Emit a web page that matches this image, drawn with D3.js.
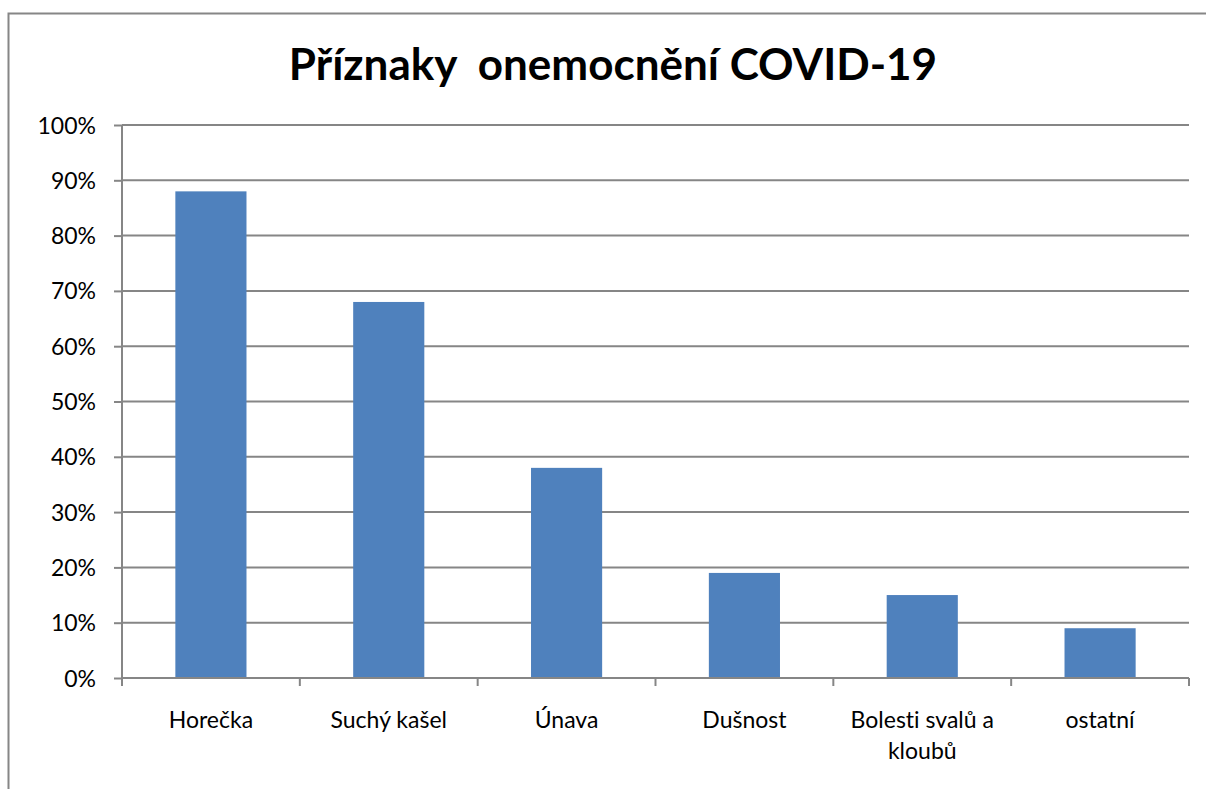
<!DOCTYPE html>
<html><head><meta charset="utf-8">
<script src="https://cdn.jsdelivr.net/npm/d3@7"></script>
<style>html,body{margin:0;padding:0;background:#fff;}svg{display:block;}text{font-variant-ligatures:none;font-feature-settings:"liga" 0;}</style>
</head><body>
<svg id="c" width="1206" height="789"></svg>
<script>
const categories = [["Horečka"], ["Suchý kašel"], ["Únava"], ["Dušnost"], ["Bolesti svalů a", "kloubů"], ["ostatní"]];
const values = [0.88, 0.68, 0.38, 0.19, 0.15, 0.09];
const yTicks = [0, 0.1, 0.2, 0.3, 0.4, 0.5, 0.6, 0.7, 0.8, 0.9, 1.0];
const titleText = "Příznaky  onemocnění COVID-19";

const svg = d3.select("#c");
const font = "Lato, 'Open Sans', sans-serif";
const grey = "#868686";

// outer chart border
svg.append("rect").attr("x", 8.5).attr("y", 13.5).attr("width", 1210).attr("height", 800)
  .attr("fill", "none").attr("stroke", grey).attr("stroke-width", 2);

const L = 122, R = 1189, T = 125, B = 678;
const xb = d3.scaleBand().domain(d3.range(categories.length)).range([L, R]);
const y = d3.scaleLinear().domain([0, 1]).range([B, T]);

// gridlines
svg.append("g").selectAll("line").data(yTicks.filter(d => d > 0)).join("line")
  .attr("x1", L).attr("x2", R).attr("y1", d => y(d)).attr("y2", d => y(d))
  .attr("stroke", grey).attr("stroke-width", 2);

// bars
svg.append("g").selectAll("rect").data(values).join("rect")
  .attr("x", (d, i) => xb(i) + xb.bandwidth() * 0.3)
  .attr("width", xb.bandwidth() * 0.4)
  .attr("y", d => y(d)).attr("height", d => B - y(d))
  .attr("fill", "#4F81BD");

// y axis
const yAxis = svg.append("g").attr("transform", `translate(${L},0)`)
  .call(d3.axisLeft(y).tickValues(yTicks).tickFormat(d3.format(".0%")).tickSize(8).tickPadding(18));
yAxis.select(".domain").attr("stroke", grey).attr("stroke-width", 2).attr("d", `M0,${T}V${B}`);
yAxis.selectAll(".tick line").attr("stroke", grey).attr("stroke-width", 2);
yAxis.selectAll(".tick text").attr("font-family", font).attr("font-size", 23).attr("fill", "#000").attr("dy", "0.35em");

// x axis
svg.append("line").attr("x1", L).attr("x2", R).attr("y1", B).attr("y2", B).attr("stroke", grey).attr("stroke-width", 2);
svg.append("g").selectAll("line").data(d3.range(categories.length + 1)).join("line")
  .attr("x1", i => L + i * xb.step()).attr("x2", i => L + i * xb.step())
  .attr("y1", B).attr("y2", B + 8).attr("stroke", grey).attr("stroke-width", 2);

const lab = svg.append("g").selectAll("text").data(categories).join("text")
  .attr("x", (d, i) => xb(i) + xb.bandwidth() / 2).attr("y", 728)
  .attr("text-anchor", "middle").attr("font-family", font).attr("font-size", 23).attr("fill", "#000");
lab.selectAll("tspan").data(d => d).join("tspan")
  .attr("x", function() { return this.parentNode.getAttribute("x"); })
  .attr("dy", (d, j) => j === 0 ? 0 : 31).text(d => d);

// title
svg.append("text").attr("x", 613).attr("y", 80).attr("text-anchor", "middle")
  .attr("font-family", font).attr("font-weight", "bold").attr("font-size", 44)
  .style("white-space", "pre").attr("xml:space", "preserve").text(titleText);
</script>
</body></html>
